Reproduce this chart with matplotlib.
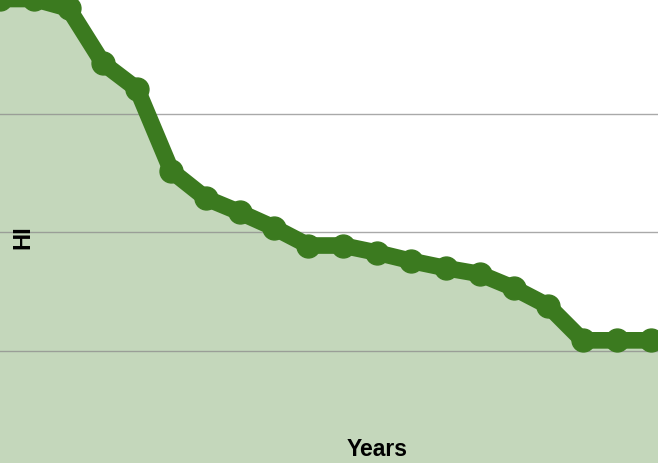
import numpy as np
import matplotlib
matplotlib.use("Agg")
import matplotlib.pyplot as plt

# HI per year (arbitrary units; gridlines at 1, 2, 3).
# The last year sits just past the right edge of the crop.
years = list(range(21))
hi = [3.97, 3.97, 3.89, 3.43, 3.21, 2.52, 2.29, 2.17, 2.04, 1.89,
      1.89, 1.83, 1.76, 1.70, 1.65, 1.53, 1.38, 1.09, 1.09, 1.09, 1.09]

LINE = "#3b7a1f"
FILL = "#c4d7bb"

fig = plt.figure(figsize=(6.58, 4.64), dpi=100)
ax = fig.add_axes([0, 0, 1, 1])

ax.fill_between(years, hi, 0, color=FILL, lw=0, zorder=1)
for g in (1, 2, 3):
    ax.axhline(g, color="#8c8c8c", lw=1.0, alpha=0.75, zorder=2)
ax.plot(years, hi, color=LINE, lw=12, marker="o", ms=16.5,
        solid_joinstyle="round", solid_capstyle="round", zorder=3)

ax.set_xlim(0, 19.2)
ax.set_ylim(0.055, 3.97)
ax.axis("off")

fig.text(377 / 658, 1 - 450 / 464, "Years", ha="center", va="center",
         fontsize=16.5, fontweight="bold", family="Liberation Sans")
fig.text(23 / 658, 1 - 237 / 464, "HI", ha="center", va="center", rotation=90,
         fontsize=17, fontweight="bold", family="Liberation Sans")

fig.savefig("out.png", dpi=100)
